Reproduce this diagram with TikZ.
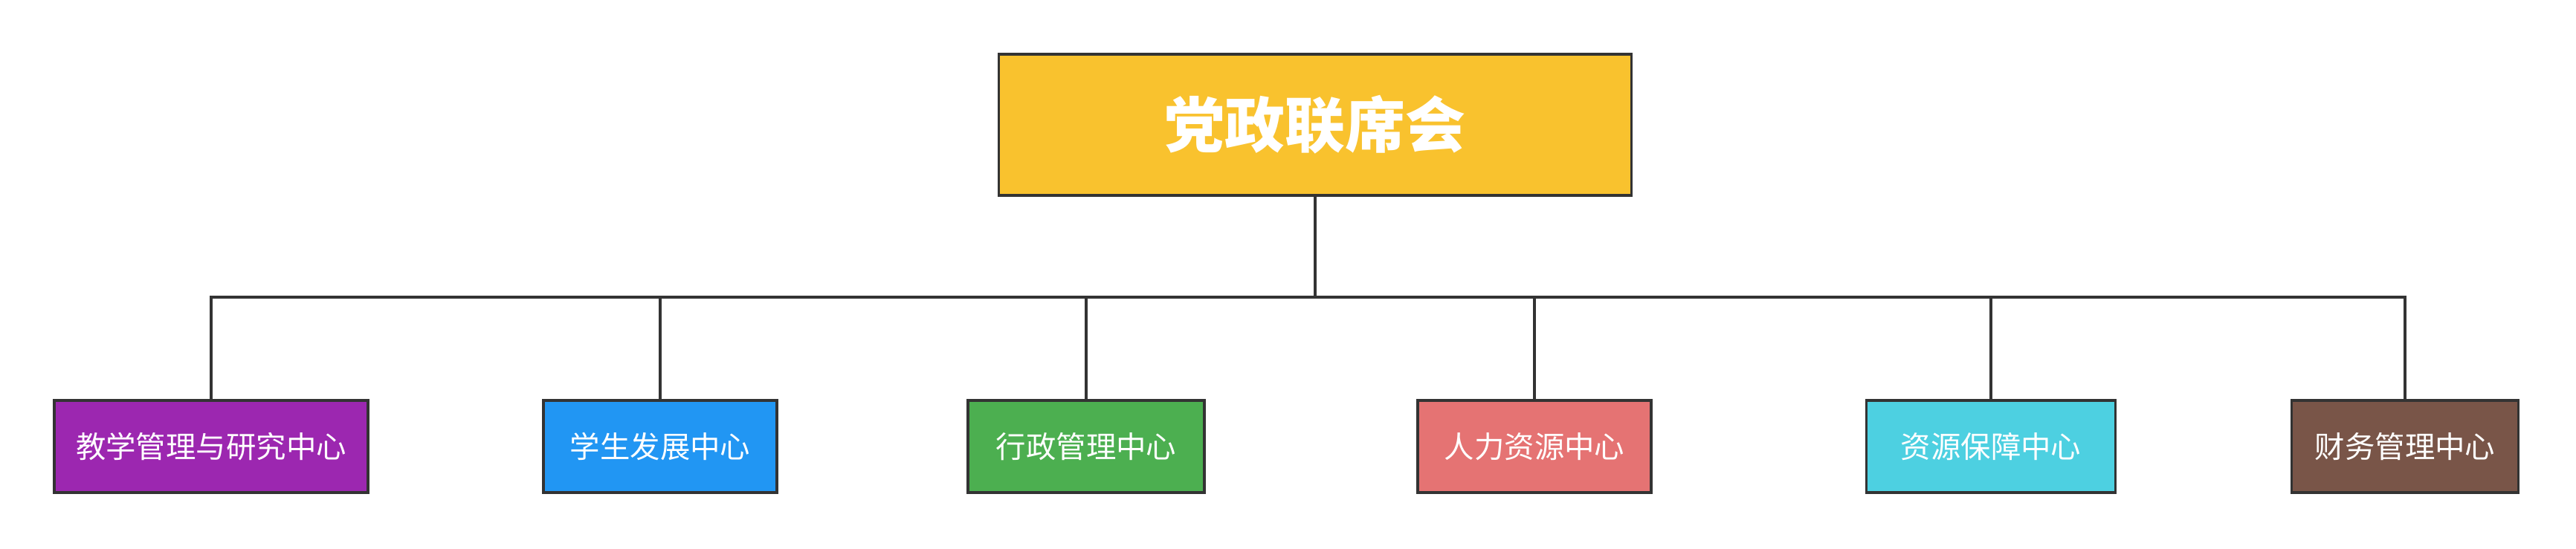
\documentclass[tikz,border=0pt]{standalone}
\usepackage{fontspec}
\usepackage{xcolor}
\setmainfont{Noto Sans CJK SC}

\definecolor{topyellow}{HTML}{F9C22E}
\definecolor{cpurple}{HTML}{9C27B0}
\definecolor{cblue}{HTML}{2196F3}
\definecolor{cgreen}{HTML}{4CAF50}
\definecolor{cred}{HTML}{E57373}
\definecolor{ccyan}{HTML}{4DD0E1}
\definecolor{cbrown}{HTML}{795548}
\definecolor{edgegray}{HTML}{333333}

\begin{document}
\begin{tikzpicture}[
  headbox/.style={draw=edgegray,line width=1.1pt,fill=topyellow,text=white,
    minimum width=8.51cm,minimum height=1.90cm,inner sep=0pt,
    font=\fontsize{23pt}{26pt}\selectfont\bfseries},
  unitbox/.style={draw=edgegray,line width=1.1pt,text=white,
    minimum height=1.24cm,inner sep=0pt,
    font=\fontsize{11.5pt}{13pt}\selectfont},
  link/.style={draw=edgegray,line width=1pt}
]
\useasboundingbox[fill=white] (0,0) rectangle (34.65,-7.38);

% top
\node[headbox] (council) at (17.69,-1.68) {党政联席会};
\coordinate (bar) at (17.69,-4.00);

% centres
\node[unitbox,fill=cpurple,minimum width=4.22cm] (teach) at (2.84,-6.01) {教学管理与研究中心};
\node[unitbox,fill=cblue,minimum width=3.14cm] (student) at (8.88,-6.01) {学生发展中心};
\node[unitbox,fill=cgreen,minimum width=3.18cm] (admin) at (14.61,-6.01) {行政管理中心};
\node[unitbox,fill=cred,minimum width=3.14cm] (hr) at (20.64,-6.01) {人力资源中心};
\node[unitbox,fill=ccyan,minimum width=3.35cm] (supply) at (26.78,-6.01) {资源保障中心};
\node[unitbox,fill=cbrown,minimum width=3.05cm] (finance) at (32.35,-6.01) {财务管理中心};

% lines
\draw[link] (council.south) -- (bar);
\draw[link] (bar) -| (teach.north);
\draw[link] (bar) -| (student.north);
\draw[link] (bar) -| (admin.north);
\draw[link] (bar) -| (hr.north);
\draw[link] (bar) -| (supply.north);
\draw[link] (bar) -| (finance.north);
\end{tikzpicture}
\end{document}
